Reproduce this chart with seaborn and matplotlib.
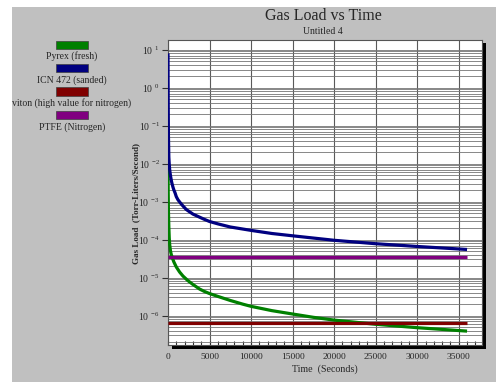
import numpy as np
import pandas as pd
import matplotlib
matplotlib.use("Agg")
import matplotlib.pyplot as plt
import seaborn as sns
from matplotlib.patches import Rectangle
from matplotlib.ticker import FixedLocator, FixedFormatter, MultipleLocator, NullFormatter, LogLocator

# ---------------- data ----------------
series_names = ["Pyrex (fresh)", "ICN 472 (sanded)",
                "viton (high value for nitrogen)", "PTFE (Nitrogen)"]
series_colors = ["#008000", "#000080", "#800000", "#800080"]

pyrex_time = [0, 20, 50, 100, 150, 200, 300, 400, 500, 700, 1000, 1400, 1800,
              2400, 3000, 3800, 4400, 5000, 6000, 7500, 9000, 10000, 12500,
              15000, 17500, 20000, 25000, 30000, 36000]
pyrex_load = [1.0e-2, 2.0e-3, 6.0e-4, 2.2e-4, 1.1e-4, 7.5e-5, 5.0e-5, 4.0e-5,
              3.4e-5, 2.6e-5, 1.9e-5, 1.4e-5, 1.1e-5, 8.3e-6, 6.6e-6, 5.0e-6,
              4.3e-6, 3.8e-6, 3.2e-6, 2.5e-6, 2.0e-6, 1.75e-6, 1.35e-6,
              1.1e-6, 9.0e-7, 7.6e-7, 5.9e-7, 4.8e-7, 3.9e-7]

icn_time = [0, 10, 20, 50, 100, 150, 200, 250, 300, 400, 480, 600, 700, 850,
            1000, 1200, 1500, 1800, 2200, 2600, 3000, 3800, 4400, 5000, 6000,
            7500, 9000, 10000, 12500, 15000, 17500, 20000, 25000, 30000, 36000]
icn_load = [8.0, 1.5, 0.6, 0.06, 0.015, 9.5e-3, 7.0e-3, 5.7e-3, 4.8e-3, 3.6e-3,
            3.0e-3, 2.4e-3, 2.05e-3, 1.7e-3, 1.35e-3, 1.12e-3, 9.2e-4, 7.7e-4,
            6.2e-4, 5.4e-4, 4.7e-4, 3.9e-4, 3.4e-4, 3.0e-4, 2.6e-4, 2.15e-4,
            1.9e-4, 1.75e-4, 1.45e-4, 1.26e-4, 1.1e-4, 9.6e-5, 7.8e-5, 6.6e-5,
            5.5e-5]

viton_time = [0, 36000]
viton_load = [6.5e-7, 6.5e-7]

ptfe_time = [0, 36000]
ptfe_load = [3.5e-5, 3.5e-5]

y_tick_exponents = [1, 0, -1, -2, -3, -4, -5, -6]
x_tick_values = [0, 5000, 10000, 15000, 20000, 25000, 30000, 35000]

frames = []
for name, t, v in zip(series_names,
                      [pyrex_time, icn_time, viton_time, ptfe_time],
                      [pyrex_load, icn_load, viton_load, ptfe_load]):
    frames.append(pd.DataFrame({"Time": t, "Load": v, "Series": name}))
df = pd.concat(frames, ignore_index=True)

# ---------------- style ----------------
sns.set_style("white")
plt.rcParams["font.family"] = ["Liberation Serif", "DejaVu Serif"]
plt.rcParams["mathtext.fontset"] = "custom"
plt.rcParams["mathtext.rm"] = "Liberation Serif"
plt.rcParams["mathtext.it"] = "Liberation Serif:italic"
plt.rcParams["mathtext.bf"] = "Liberation Serif:bold"

W, H = 496, 382
fig = plt.figure(figsize=(W / 100, H / 100), dpi=100, facecolor="white")

def fx(px):
    return px / W

def fy(py):
    return 1 - py / H

# gray background with white strip top/left
fig.add_artist(Rectangle((fx(12), 0), 1 - fx(12), fy(7), transform=fig.transFigure,
                         facecolor="#c0c0c0", edgecolor="none", zorder=-3))

ax_l, ax_r, ax_t, ax_b = 168, 482, 39.5, 345
# drop shadow
fig.add_artist(Rectangle((fx(ax_l + 4), fy(ax_b + 4)), fx(ax_r - ax_l),
                         fy(ax_t + 4) - fy(ax_b + 4),
                         transform=fig.transFigure, facecolor="black",
                         edgecolor="none", zorder=-2))

ax = fig.add_axes([fx(ax_l), fy(ax_b), fx(ax_r - ax_l), fy(ax_t) - fy(ax_b)])
ax.set_facecolor("white")

palette = dict(zip(series_names, series_colors))
sns.lineplot(data=df, x="Time", y="Load", hue="Series", hue_order=series_names,
             palette=palette, estimator=None, sort=False, legend=False,
             linewidth=2.3, ax=ax, solid_capstyle="butt", zorder=3)

ax.set_yscale("log")
lo = np.log10(min(df["Load"]))
hi = np.log10(max(df["Load"]))
pad = (hi - lo) * 0.05
ax.set_ylim(10 ** (lo - pad), 10 ** (hi + pad))
ax.set_xlim(0, max(df["Time"]) * 1.05)

# y ticks
ax.yaxis.set_major_locator(FixedLocator([10.0 ** e for e in y_tick_exponents]))
ax.yaxis.set_major_formatter(FixedFormatter(
    [r"10 $^{%d}$" % e for e in y_tick_exponents]))
ax.yaxis.set_minor_locator(LogLocator(base=10, subs=np.arange(2, 10), numticks=100))
ax.yaxis.set_minor_formatter(NullFormatter())
ax.tick_params(axis="y", which="major", direction="out", length=4, width=0.8,
               color="#303030", labelsize=7, pad=2, left=True)
ax.tick_params(axis="y", which="minor", length=0)

# x ticks
ax.xaxis.set_major_locator(FixedLocator(x_tick_values))
ax.xaxis.set_major_formatter(FixedFormatter([str(v) for v in x_tick_values]))
ax.xaxis.set_minor_locator(MultipleLocator(1000))
ax.tick_params(axis="x", which="both", direction="in", length=3, width=0.8,
               color="#303030", labelsize=6.8, pad=6, bottom=True)

# grid
ax.grid(which="both", axis="y", color="#747474", linewidth=0.6)
ax.grid(which="major", axis="x", color="#5a5a5a", linewidth=0.8)
ax.set_axisbelow(True)

for s in ax.spines.values():
    s.set_color("#555555")
    s.set_linewidth(0.8)

ax.set_xlabel("Time  (Seconds)", fontsize=7.2, labelpad=2)
ax.set_ylabel("")
fig.text(fx(136), fy(203), "Gas Load  (Torr-Liters/Second)", rotation=90,
         ha="center", va="center", fontsize=6.5, fontweight="bold")

# titles
fig.text(fx(323), fy(16), "Gas Load vs Time", ha="center", va="center", fontsize=11.5)
fig.text(fx(323), fy(31), "Untitled 4", ha="center", va="center", fontsize=7)

# legend (patch above centered label)
patch_centers = [44.5, 68, 91.5, 115]
for name, col, cy in zip(series_names, series_colors, patch_centers):
    fig.add_artist(Rectangle((fx(56), fy(cy + 4)), fx(32), fy(cy - 4) - fy(cy + 4),
                             transform=fig.transFigure, facecolor=col,
                             edgecolor="#404040", linewidth=0.5, zorder=2))
    fig.text(fx(72), fy(cy + 12), name, ha="center", va="center", fontsize=7)

fig.savefig("out.png", dpi=100, facecolor="white")
